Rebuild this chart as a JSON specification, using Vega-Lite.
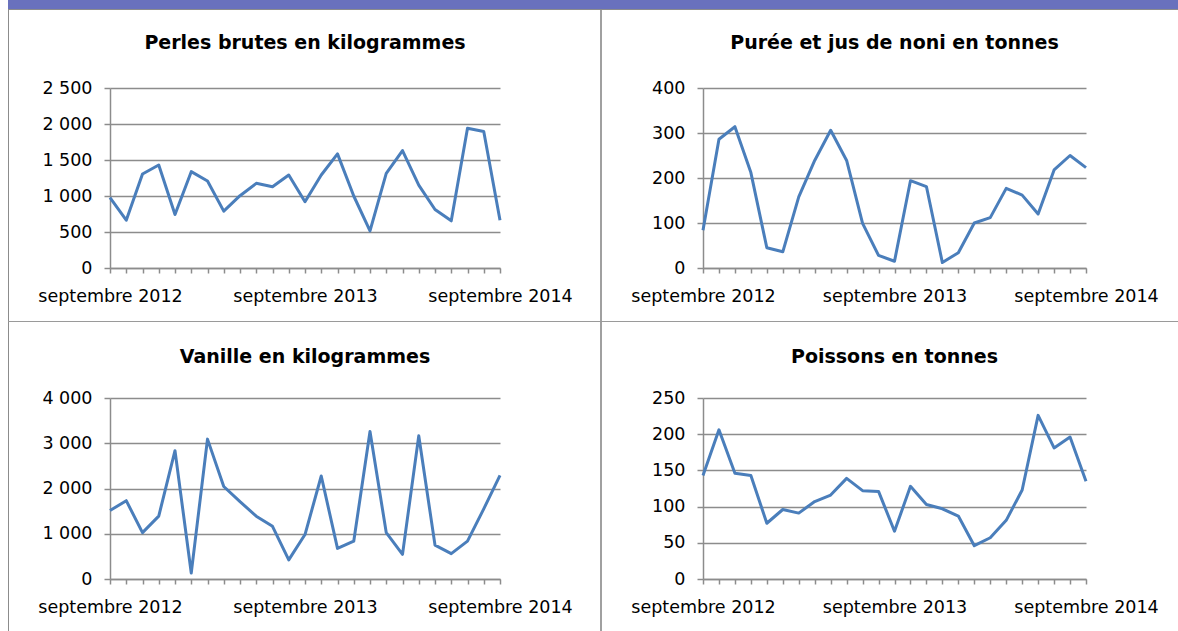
{
  "$schema": "https://vega.github.io/schema/vega-lite/v6.json",
  "background": "white",
  "padding": {"left": 8, "top": 0, "right": 0, "bottom": 0},
  "autosize": {"type": "pad"},
  "columns": 8,
  "spacing": 0,
  "bounds": "flush",
  "align": "each",
  "config": {
    "view": {"stroke": null},
    "font": "DejaVu Sans",
    "axis": {"labelFont": "DejaVu Sans", "labelFontSize": 17.5, "labelColor": "#000000", "domainColor": "#8c8c8c", "tickColor": "#8c8c8c", "gridColor": "#8c8c8c", "domainWidth": 1.5, "gridWidth": 1.5, "tickWidth": 1.5, "title": null},
    "axisX": {"labelAngle": 0, "labelOverlap": false, "tickSize": 5, "labelPadding": 14, "grid": false},
    "axisY": {"tickSize": 6, "labelPadding": 12, "grid": true},
    "title": {"font": "DejaVu Sans", "fontSize": 19, "fontWeight": "bold", "color": "#000000", "frame": "group", "anchor": "middle", "baseline": "alphabetic"}
  },
  "datasets": {
    "vide": [],
    "perles": [
      {"mois": "2012-09", "valeur": 976}, {"mois": "2012-10", "valeur": 664}, {"mois": "2012-11", "valeur": 1306}, {"mois": "2012-12", "valeur": 1431},
      {"mois": "2013-01", "valeur": 743}, {"mois": "2013-02", "valeur": 1338}, {"mois": "2013-03", "valeur": 1208}, {"mois": "2013-04", "valeur": 790},
      {"mois": "2013-05", "valeur": 1004}, {"mois": "2013-06", "valeur": 1176}, {"mois": "2013-07", "valeur": 1129}, {"mois": "2013-08", "valeur": 1292},
      {"mois": "2013-09", "valeur": 920}, {"mois": "2013-10", "valeur": 1292}, {"mois": "2013-11", "valeur": 1585}, {"mois": "2013-12", "valeur": 1000},
      {"mois": "2014-01", "valeur": 516}, {"mois": "2014-02", "valeur": 1315}, {"mois": "2014-03", "valeur": 1631}, {"mois": "2014-04", "valeur": 1152},
      {"mois": "2014-05", "valeur": 813}, {"mois": "2014-06", "valeur": 655}, {"mois": "2014-07", "valeur": 1942}, {"mois": "2014-08", "valeur": 1896},
      {"mois": "2014-09", "valeur": 664}
    ],
    "noni": [
      {"mois": "2012-09", "valeur": 84}, {"mois": "2012-10", "valeur": 286}, {"mois": "2012-11", "valeur": 314}, {"mois": "2012-12", "valeur": 212},
      {"mois": "2013-01", "valeur": 45}, {"mois": "2013-02", "valeur": 36}, {"mois": "2013-03", "valeur": 158}, {"mois": "2013-04", "valeur": 239},
      {"mois": "2013-05", "valeur": 306}, {"mois": "2013-06", "valeur": 239}, {"mois": "2013-07", "valeur": 99}, {"mois": "2013-08", "valeur": 28},
      {"mois": "2013-09", "valeur": 15}, {"mois": "2013-10", "valeur": 194}, {"mois": "2013-11", "valeur": 181}, {"mois": "2013-12", "valeur": 12},
      {"mois": "2014-01", "valeur": 34}, {"mois": "2014-02", "valeur": 100}, {"mois": "2014-03", "valeur": 112}, {"mois": "2014-04", "valeur": 177},
      {"mois": "2014-05", "valeur": 162}, {"mois": "2014-06", "valeur": 120}, {"mois": "2014-07", "valeur": 218}, {"mois": "2014-08", "valeur": 250},
      {"mois": "2014-09", "valeur": 223}
    ],
    "vanille": [
      {"mois": "2012-09", "valeur": 1513}, {"mois": "2012-10", "valeur": 1731}, {"mois": "2012-11", "valeur": 1025}, {"mois": "2012-12", "valeur": 1389},
      {"mois": "2013-01", "valeur": 2836}, {"mois": "2013-02", "valeur": 131}, {"mois": "2013-03", "valeur": 3091}, {"mois": "2013-04", "valeur": 2044},
      {"mois": "2013-05", "valeur": 1709}, {"mois": "2013-06", "valeur": 1389}, {"mois": "2013-07", "valeur": 1164}, {"mois": "2013-08", "valeur": 422},
      {"mois": "2013-09", "valeur": 982}, {"mois": "2013-10", "valeur": 2276}, {"mois": "2013-11", "valeur": 676}, {"mois": "2013-12", "valeur": 836},
      {"mois": "2014-01", "valeur": 3258}, {"mois": "2014-02", "valeur": 1025}, {"mois": "2014-03", "valeur": 545}, {"mois": "2014-04", "valeur": 3164},
      {"mois": "2014-05", "valeur": 749}, {"mois": "2014-06", "valeur": 560}, {"mois": "2014-07", "valeur": 836}, {"mois": "2014-08", "valeur": 1549},
      {"mois": "2014-09", "valeur": 2291}
    ],
    "poissons": [
      {"mois": "2012-09", "valeur": 143}, {"mois": "2012-10", "valeur": 206}, {"mois": "2012-11", "valeur": 146}, {"mois": "2012-12", "valeur": 143},
      {"mois": "2013-01", "valeur": 77}, {"mois": "2013-02", "valeur": 96}, {"mois": "2013-03", "valeur": 91}, {"mois": "2013-04", "valeur": 107},
      {"mois": "2013-05", "valeur": 116}, {"mois": "2013-06", "valeur": 139}, {"mois": "2013-07", "valeur": 122}, {"mois": "2013-08", "valeur": 121},
      {"mois": "2013-09", "valeur": 66}, {"mois": "2013-10", "valeur": 128}, {"mois": "2013-11", "valeur": 103}, {"mois": "2013-12", "valeur": 97},
      {"mois": "2014-01", "valeur": 87}, {"mois": "2014-02", "valeur": 46}, {"mois": "2014-03", "valeur": 57}, {"mois": "2014-04", "valeur": 81},
      {"mois": "2014-05", "valeur": 123}, {"mois": "2014-06", "valeur": 226}, {"mois": "2014-07", "valeur": 181}, {"mois": "2014-08", "valeur": 196},
      {"mois": "2014-09", "valeur": 135}
    ]
  },
  "concat": [
    {"width": 1, "height": 9, "data": {"name": "vide"}, "mark": "point", "encoding": {}, "view": {"fill": "#6971BD"}},
    {"width": 101, "height": 9, "data": {"name": "vide"}, "mark": "point", "encoding": {}, "view": {"fill": "#6971BD"}},
    {"width": 390, "height": 9, "data": {"name": "vide"}, "mark": "point", "encoding": {}, "view": {"fill": "#6971BD"}},
    {"width": 100, "height": 9, "data": {"name": "vide"}, "mark": "point", "encoding": {}, "view": {"fill": "#6971BD"}},
    {"width": 2, "height": 9, "data": {"name": "vide"}, "mark": "point", "encoding": {}, "view": {"fill": "#6971BD"}},
    {"width": 101, "height": 9, "data": {"name": "vide"}, "mark": "point", "encoding": {}, "view": {"fill": "#6971BD"}},
    {"width": 383, "height": 9, "data": {"name": "vide"}, "mark": "point", "encoding": {}, "view": {"fill": "#6971BD"}},
    {"width": 92, "height": 9, "data": {"name": "vide"}, "mark": "point", "encoding": {}, "view": {"fill": "#6971BD"}},

    {"width": 1, "height": 1, "data": {"name": "vide"}, "mark": "point", "encoding": {}, "view": {"fill": "#8c8c8c"}},
    {"width": 101, "height": 1, "data": {"name": "vide"}, "mark": "point", "encoding": {}, "view": {"fill": "#8c8c8c"}},
    {"width": 390, "height": 1, "data": {"name": "vide"}, "mark": "point", "encoding": {}, "view": {"fill": "#8c8c8c"}},
    {"width": 100, "height": 1, "data": {"name": "vide"}, "mark": "point", "encoding": {}, "view": {"fill": "#8c8c8c"}},
    {"width": 2, "height": 1, "data": {"name": "vide"}, "mark": "point", "encoding": {}, "view": {"fill": "#8c8c8c"}},
    {"width": 101, "height": 1, "data": {"name": "vide"}, "mark": "point", "encoding": {}, "view": {"fill": "#8c8c8c"}},
    {"width": 383, "height": 1, "data": {"name": "vide"}, "mark": "point", "encoding": {}, "view": {"fill": "#8c8c8c"}},
    {"width": 92, "height": 1, "data": {"name": "vide"}, "mark": "point", "encoding": {}, "view": {"fill": "#8c8c8c"}},

    {"width": 1, "height": 78, "data": {"name": "vide"}, "mark": "point", "encoding": {}, "view": {"fill": "#8c8c8c"}},
    {"width": 101, "height": 78, "data": {"name": "vide"}, "mark": "point", "encoding": {}},
    {"width": 390, "height": 78, "data": {"name": "vide"}, "mark": "point", "encoding": {}},
    {"width": 100, "height": 78, "data": {"name": "vide"}, "mark": "point", "encoding": {}},
    {"width": 2, "height": 78, "data": {"name": "vide"}, "mark": "point", "encoding": {}, "view": {"fill": "#a0a0a0"}},
    {"width": 101, "height": 78, "data": {"name": "vide"}, "mark": "point", "encoding": {}},
    {"width": 383, "height": 78, "data": {"name": "vide"}, "mark": "point", "encoding": {}},
    {"width": 92, "height": 78, "data": {"name": "vide"}, "mark": "point", "encoding": {}},

    {"width": 1, "height": 180, "data": {"name": "vide"}, "mark": "point", "encoding": {}, "view": {"fill": "#8c8c8c"}},
    {"width": 101, "height": 180, "data": {"name": "vide"}, "mark": "point", "encoding": {}},
    {
      "width": 390, "height": 180,
      "data": {"name": "perles"},
      "title": {"text": "Perles brutes en kilogrammes", "offset": 26},
      "mark": {"type": "line", "color": "#4A7EBB", "strokeWidth": 3, "strokeJoin": "round"},
      "encoding": {
        "x": {"field": "mois", "type": "ordinal", "scale": {"type": "point", "padding": 0},
              "axis": {"labelExpr": "datum.value == '2012-09' ? 'septembre 2012' : datum.value == '2013-09' ? 'septembre 2013' : datum.value == '2014-09' ? 'septembre 2014' : ''",
                       "encode": {"ticks": {"update": {"y2": {"signal": "toNumber(slice(datum.value, 5, 7)) % 2 == 1 ? 5 : -5"}}}}}},
        "y": {"field": "valeur", "type": "quantitative", "scale": {"domain": [0, 2500], "nice": false},
              "axis": {"values": [0, 500, 1000, 1500, 2000, 2500], "labelExpr": "replace(format(datum.value, ','), ',', ' ')"}}
      }
    },
    {"width": 100, "height": 180, "data": {"name": "vide"}, "mark": "point", "encoding": {}},
    {"width": 2, "height": 180, "data": {"name": "vide"}, "mark": "point", "encoding": {}, "view": {"fill": "#a0a0a0"}},
    {"width": 101, "height": 180, "data": {"name": "vide"}, "mark": "point", "encoding": {}},
    {
      "width": 383, "height": 180,
      "data": {"name": "noni"},
      "title": {"text": "Purée et jus de noni en tonnes", "offset": 26},
      "mark": {"type": "line", "color": "#4A7EBB", "strokeWidth": 3, "strokeJoin": "round"},
      "encoding": {
        "x": {"field": "mois", "type": "ordinal", "scale": {"type": "point", "padding": 0},
              "axis": {"labelExpr": "datum.value == '2012-09' ? 'septembre 2012' : datum.value == '2013-09' ? 'septembre 2013' : datum.value == '2014-09' ? 'septembre 2014' : ''",
                       "encode": {"ticks": {"update": {"y2": {"signal": "toNumber(slice(datum.value, 5, 7)) % 2 == 1 ? 5 : -5"}}}}}},
        "y": {"field": "valeur", "type": "quantitative", "scale": {"domain": [0, 400], "nice": false},
              "axis": {"values": [0, 100, 200, 300, 400]}}
      }
    },
    {"width": 92, "height": 180, "data": {"name": "vide"}, "mark": "point", "encoding": {}},

    {"width": 1, "height": 53, "data": {"name": "vide"}, "mark": "point", "encoding": {}, "view": {"fill": "#8c8c8c"}},
    {"width": 101, "height": 53, "data": {"name": "vide"}, "mark": "point", "encoding": {}},
    {"width": 390, "height": 53, "data": {"name": "vide"}, "mark": "point", "encoding": {}},
    {"width": 100, "height": 53, "data": {"name": "vide"}, "mark": "point", "encoding": {}},
    {"width": 2, "height": 53, "data": {"name": "vide"}, "mark": "point", "encoding": {}, "view": {"fill": "#a0a0a0"}},
    {"width": 101, "height": 53, "data": {"name": "vide"}, "mark": "point", "encoding": {}},
    {"width": 383, "height": 53, "data": {"name": "vide"}, "mark": "point", "encoding": {}},
    {"width": 92, "height": 53, "data": {"name": "vide"}, "mark": "point", "encoding": {}},

    {"width": 1, "height": 1, "data": {"name": "vide"}, "mark": "point", "encoding": {}, "view": {"fill": "#9a9a9a"}},
    {"width": 101, "height": 1, "data": {"name": "vide"}, "mark": "point", "encoding": {}, "view": {"fill": "#9a9a9a"}},
    {"width": 390, "height": 1, "data": {"name": "vide"}, "mark": "point", "encoding": {}, "view": {"fill": "#9a9a9a"}},
    {"width": 100, "height": 1, "data": {"name": "vide"}, "mark": "point", "encoding": {}, "view": {"fill": "#9a9a9a"}},
    {"width": 2, "height": 1, "data": {"name": "vide"}, "mark": "point", "encoding": {}, "view": {"fill": "#9a9a9a"}},
    {"width": 101, "height": 1, "data": {"name": "vide"}, "mark": "point", "encoding": {}, "view": {"fill": "#9a9a9a"}},
    {"width": 383, "height": 1, "data": {"name": "vide"}, "mark": "point", "encoding": {}, "view": {"fill": "#9a9a9a"}},
    {"width": 92, "height": 1, "data": {"name": "vide"}, "mark": "point", "encoding": {}, "view": {"fill": "#9a9a9a"}},

    {"width": 1, "height": 76, "data": {"name": "vide"}, "mark": "point", "encoding": {}, "view": {"fill": "#8c8c8c"}},
    {"width": 101, "height": 76, "data": {"name": "vide"}, "mark": "point", "encoding": {}},
    {"width": 390, "height": 76, "data": {"name": "vide"}, "mark": "point", "encoding": {}},
    {"width": 100, "height": 76, "data": {"name": "vide"}, "mark": "point", "encoding": {}},
    {"width": 2, "height": 76, "data": {"name": "vide"}, "mark": "point", "encoding": {}, "view": {"fill": "#a0a0a0"}},
    {"width": 101, "height": 76, "data": {"name": "vide"}, "mark": "point", "encoding": {}},
    {"width": 383, "height": 76, "data": {"name": "vide"}, "mark": "point", "encoding": {}},
    {"width": 92, "height": 76, "data": {"name": "vide"}, "mark": "point", "encoding": {}},

    {"width": 1, "height": 181, "data": {"name": "vide"}, "mark": "point", "encoding": {}, "view": {"fill": "#8c8c8c"}},
    {"width": 101, "height": 181, "data": {"name": "vide"}, "mark": "point", "encoding": {}},
    {
      "width": 390, "height": 181,
      "data": {"name": "vanille"},
      "title": {"text": "Vanille en kilogrammes", "offset": 22},
      "mark": {"type": "line", "color": "#4A7EBB", "strokeWidth": 3, "strokeJoin": "round"},
      "encoding": {
        "x": {"field": "mois", "type": "ordinal", "scale": {"type": "point", "padding": 0},
              "axis": {"labelExpr": "datum.value == '2012-09' ? 'septembre 2012' : datum.value == '2013-09' ? 'septembre 2013' : datum.value == '2014-09' ? 'septembre 2014' : ''",
                       "encode": {"ticks": {"update": {"y2": {"signal": "toNumber(slice(datum.value, 5, 7)) % 2 == 1 ? 5 : -5"}}}}}},
        "y": {"field": "valeur", "type": "quantitative", "scale": {"domain": [0, 4000], "nice": false},
              "axis": {"values": [0, 1000, 2000, 3000, 4000], "labelExpr": "replace(format(datum.value, ','), ',', ' ')"}}
      }
    },
    {"width": 100, "height": 181, "data": {"name": "vide"}, "mark": "point", "encoding": {}},
    {"width": 2, "height": 181, "data": {"name": "vide"}, "mark": "point", "encoding": {}, "view": {"fill": "#a0a0a0"}},
    {"width": 101, "height": 181, "data": {"name": "vide"}, "mark": "point", "encoding": {}},
    {
      "width": 383, "height": 181,
      "data": {"name": "poissons"},
      "title": {"text": "Poissons en tonnes", "offset": 22},
      "mark": {"type": "line", "color": "#4A7EBB", "strokeWidth": 3, "strokeJoin": "round"},
      "encoding": {
        "x": {"field": "mois", "type": "ordinal", "scale": {"type": "point", "padding": 0},
              "axis": {"labelExpr": "datum.value == '2012-09' ? 'septembre 2012' : datum.value == '2013-09' ? 'septembre 2013' : datum.value == '2014-09' ? 'septembre 2014' : ''",
                       "encode": {"ticks": {"update": {"y2": {"signal": "toNumber(slice(datum.value, 5, 7)) % 2 == 1 ? 5 : -5"}}}}}},
        "y": {"field": "valeur", "type": "quantitative", "scale": {"domain": [0, 250], "nice": false},
              "axis": {"values": [0, 50, 100, 150, 200, 250]}}
      }
    },
    {"width": 92, "height": 181, "data": {"name": "vide"}, "mark": "point", "encoding": {}},

    {"width": 1, "height": 52, "data": {"name": "vide"}, "mark": "point", "encoding": {}, "view": {"fill": "#8c8c8c"}},
    {"width": 101, "height": 52, "data": {"name": "vide"}, "mark": "point", "encoding": {}},
    {"width": 390, "height": 52, "data": {"name": "vide"}, "mark": "point", "encoding": {}},
    {"width": 100, "height": 52, "data": {"name": "vide"}, "mark": "point", "encoding": {}},
    {"width": 2, "height": 52, "data": {"name": "vide"}, "mark": "point", "encoding": {}, "view": {"fill": "#a0a0a0"}},
    {"width": 101, "height": 52, "data": {"name": "vide"}, "mark": "point", "encoding": {}},
    {"width": 383, "height": 52, "data": {"name": "vide"}, "mark": "point", "encoding": {}},
    {"width": 92, "height": 52, "data": {"name": "vide"}, "mark": "point", "encoding": {}}
  ]
}
